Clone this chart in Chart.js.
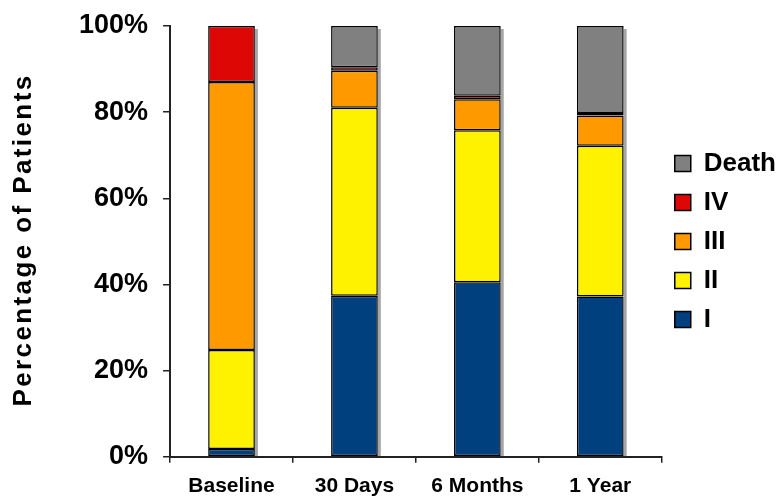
<!DOCTYPE html>
<html>
<head>
<meta charset="utf-8">
<script src="https://cdn.jsdelivr.net/npm/chart.js@4"></script>
<style>
  html, body { margin: 0; padding: 0; background: #fff; }
  #wrap { width: 782px; height: 497px; position: relative; }
</style>
</head>
<body>
<div id="wrap"><canvas id="graphic"></canvas></div>
<script>
const categories = ["Baseline", "30 Days", "6 Months", "1 Year"]
const gradeI = [1.8, 37.4, 40.5, 37.2]
const gradeII = [23, 43.6, 35.3, 35]
const gradeIII = [62.2, 8.6, 7.2, 7]
const gradeIV = [13, 0.8, 0.8, 0.6]
const death = [0, 9.6, 16.2, 20.2]
const yTicks = [0, 20, 40, 60, 80, 100]

const fontFamily = "'Liberation Sans', Arial, sans-serif"

// grey drop shadow right of every stacked bar
const barShadow = {
  id: "barShadow",
  beforeDatasetsDraw(chart) {
    const ctx = chart.ctx
    const metas = chart.getSortedVisibleDatasetMetas()
    categories.forEach((c, i) => {
      let top = Infinity, base = -Infinity, right = 0
      metas.forEach(m => {
        const el = m.data[i]
        if (!el) return
        top = Math.min(top, el.y)
        base = Math.max(base, el.base)
        right = el.x + el.width / 2
      })
      ctx.save()
      ctx.fillStyle = "#a6a6a6"
      ctx.fillRect(right, top + 3, 3, base - top - 3)
      ctx.restore()
    })
  }
}

// rotated y title with wide letter spacing
const yTitle = {
  id: "yTitle",
  afterDraw(chart) {
    const ctx = chart.ctx
    ctx.save()
    ctx.translate(24, 240)
    ctx.rotate(-Math.PI / 2)
    ctx.font = "bold 26px " + fontFamily
    ctx.letterSpacing = "2.4px"
    ctx.fillStyle = "#000"
    ctx.textAlign = "center"
    ctx.textBaseline = "middle"
    ctx.fillText("Percentage of Patients", 0, 0)
    ctx.restore()
  }
}

const mk = (label, data, color) => ({
  label: label,
  data: data,
  backgroundColor: color,
  borderColor: "#000",
  borderWidth: 1.5,
  borderSkipped: false,
  barPercentage: 0.38,
  categoryPercentage: 1
})

new Chart(document.querySelector("#graphic"), {
  type: "bar",
  data: {
    labels: categories,
    datasets: [
      mk("I", gradeI, "#00407f"),
      mk("II", gradeII, "#fff200"),
      mk("III", gradeIII, "#ff9900"),
      mk("IV", gradeIV, "#dd0806"),
      mk("Death", death, "#808080")
    ]
  },
  options: {
    responsive: true,
    maintainAspectRatio: false,
    animation: false,
    layout: { padding: { left: 64, right: -4, top: 26, bottom: -13 } },
    plugins: {
      legend: {
        position: "right",
        fullSize: false,
        reverse: true,
        labels: {
          color: "#000",
          boxWidth: 16,
          boxHeight: 16,
          padding: 13,
          font: { family: fontFamily, size: 26, weight: "bold" }
        }
      },
      tooltip: { enabled: false }
    },
    scales: {
      x: {
        stacked: true,
        border: { display: true, color: "#222", width: 2 },
        grid: { display: true, drawOnChartArea: false, drawTicks: true, tickLength: 6, color: "#222", lineWidth: 1.5 },
        ticks: { color: "#000", padding: 11, font: { family: fontFamily, size: 21, weight: "bold" } }
      },
      y: {
        stacked: true,
        min: 0,
        max: 100,
        afterBuildTicks: (axis) => { axis.ticks = yTicks.map(v => ({ value: v })) },
        afterFit: (axis) => { axis.paddingTop = 0; axis.paddingBottom = 0 },
        border: { display: true, color: "#222", width: 2 },
        grid: { display: true, drawOnChartArea: false, drawTicks: true, tickLength: 7, color: "#222", lineWidth: 1.5 },
        ticks: {
          color: "#000",
          padding: 15,
          font: { family: fontFamily, size: 27, weight: "bold" },
          callback: (v) => v + "%"
        }
      }
    }
  },
  plugins: [barShadow, yTitle]
})
</script>
</body>
</html>
